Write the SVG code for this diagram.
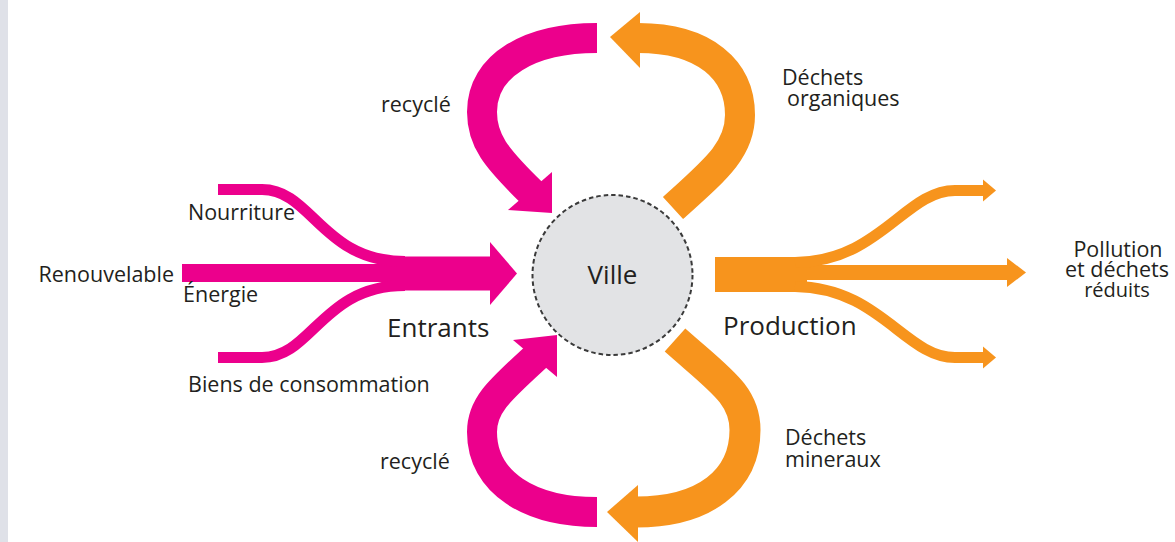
<svg xmlns="http://www.w3.org/2000/svg" width="1175" height="542" viewBox="0 0 1175 542">
<style>
.pk{fill:#EC008C}
.or{fill:#F7941D}
.pks{fill:none;stroke:#EC008C;stroke-linecap:butt}
.ors{fill:none;stroke:#F7941D;stroke-linecap:butt}
.t{font-family:"Open Sans","Liberation Sans",sans-serif;font-size:21.5px;fill:#231f20}
.big{font-size:26px}
</style>
<rect x="0" y="0" width="1175" height="542" fill="#ffffff"/>
<rect x="0" y="0" width="8" height="542" fill="#dfe1e8"/>
<g id="connectors">
  <!-- left inputs -->
  <g id="entrants-arrow">
    <rect class="pk" x="182" y="264" width="222" height="18"/>
    <path class="pks" stroke-width="11" d="M218,189.5 H262 C312,189.5 322,261.5 405,261.5"/>
    <path class="pks" stroke-width="11" d="M218,357.5 H262 C312,357.5 322,285.5 405,285.5"/>
    <rect class="pk" x="398" y="256.5" width="94" height="34"/>
    <polygon class="pk" points="490,242 517,273.5 490,305"/>
  </g>
  <!-- right outputs -->
  <g id="production-arrow">
    <rect class="or" x="715" y="257" width="92" height="35"/>
    <rect class="or" x="800" y="265" width="209" height="15"/>
    <polygon class="or" points="1007,258 1026,272.5 1007,287"/>
    <path class="ors" stroke-width="11" d="M795,262.5 C880,261.5 905,190.5 955,190.5 H985"/>
    <polygon class="or" points="983,179.5 996,190.5 983,201.5"/>
    <path class="ors" stroke-width="11" d="M795,286.5 C880,287.5 905,357.5 955,357.5 H985"/>
    <polygon class="or" points="983,346.5 996,357.5 983,368.5"/>
  </g>
  <!-- top recycled loop -->
  <g id="recycle-top">
    <path class="pks" stroke-width="30" d="M597,38 C530,38 482,65 482,112 C482,140 495,157 532,193"/>
    <polygon class="pk" points="552,172 552,213 508,210"/>
  </g>
  <!-- top organic waste loop -->
  <g id="organic-top">
    <path class="ors" stroke-width="30" d="M638,38 C705,38 740,70 740,115 C740,150 715,170 673,208"/>
    <polygon class="or" points="610,37 640,12 640,68"/>
  </g>
  <!-- bottom recycled loop -->
  <g id="recycle-bottom">
    <path class="pks" stroke-width="30" d="M597,512 C530,512 482,483 482,432 C482,405 500,390 537,356"/>
    <polygon class="pk" points="557,335 557,377 513,340"/>
  </g>
  <!-- bottom mineral waste loop -->
  <g id="mineral-bottom">
    <path class="ors" stroke-width="31" d="M636,512 C705,512 745,480 745,430 C745,395 720,380 675,340"/>
    <polygon class="or" points="607,512 638,485 638,542"/>
  </g>
</g>
<g id="ville">
  <circle cx="612.5" cy="275" r="80" fill="#e2e3e5" stroke="#3a3a3a" stroke-width="2" stroke-dasharray="4.5 3"/>
  <text class="t big" x="612.5" y="284" text-anchor="middle">Ville</text>
</g>
<g id="labels">
  <text id="lbl-recycle-top" class="t" x="381" y="112">recyclé</text>
  <text id="lbl-organiques" class="t"><tspan x="782" y="85">Déchets</tspan><tspan x="787" y="106">organiques</tspan></text>
  <text id="lbl-nourriture" class="t" x="188" y="220">Nourriture</text>
  <text id="lbl-renouvelable" class="t" x="174" y="282" text-anchor="end">Renouvelable</text>
  <text id="lbl-energie" class="t" x="183" y="302">Énergie</text>
  <text id="lbl-entrants" class="t big" x="387" y="337">Entrants</text>
  <text id="lbl-biens" class="t" x="188" y="392">Biens de consommation</text>
  <text id="lbl-recycle-bottom" class="t" x="380" y="469">recyclé</text>
  <text id="lbl-production" class="t big" x="723" y="335">Production</text>
  <text id="lbl-mineraux" class="t"><tspan x="785" y="445">Déchets</tspan><tspan x="785" y="467">mineraux</tspan></text>
  <text id="lbl-pollution" class="t" text-anchor="middle"><tspan x="1118" y="257">Pollution</tspan><tspan x="1117" y="277">et déchets</tspan><tspan x="1117" y="297" style="font-size:20px">réduits</tspan></text>
</g>
</svg>
